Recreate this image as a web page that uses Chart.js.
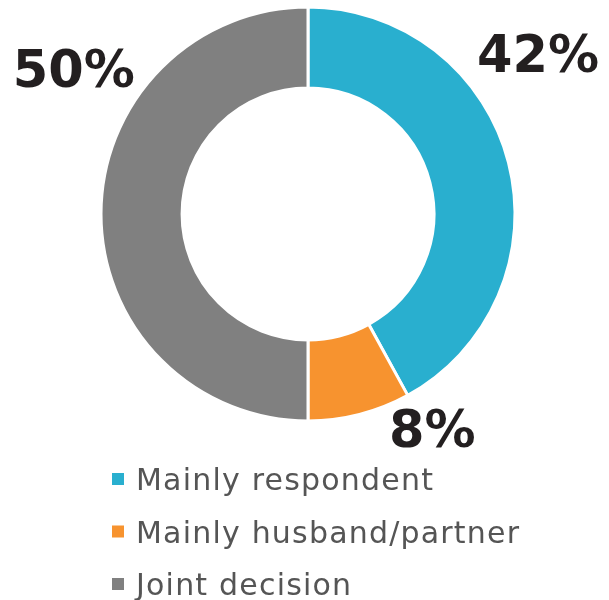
<!DOCTYPE html>
<html>
<head>
<meta charset="utf-8">
<script src="https://cdn.jsdelivr.net/npm/chart.js@4"></script>
<style>
  html, body { margin: 0; padding: 0; background: #fff; }
  #wrap { width: 609px; height: 600px; }
</style>
</head>
<body>
<div id="wrap"><canvas id="decision" width="609" height="600"></canvas></div>
<script>
// Categories and their shares (%)
const categories = ['Mainly respondent', 'Mainly husband/partner', 'Joint decision'];
const shares = [42, 8, 50];
const colours = ['#29afcf', '#f7932f', '#808080'];

// where the % labels sit: angle (deg, 0 = 3 o'clock) and distance in outer radii
const labelSpots = [
  { angle: -34, dist: 1.34 },
  { angle: 60.5, dist: 1.22 },
  { angle: -149, dist: 1.32 }
];

// percent labels around the ring
const percentLabels = {
  id: 'percentLabels',
  afterDatasetsDraw(chart) {
    const ctx = chart.ctx;
    const meta = chart.getDatasetMeta(0);
    ctx.save();
    ctx.font = 'bold 51px "DejaVu Sans"';
    ctx.fillStyle = '#231f20';
    ctx.textAlign = 'center';
    ctx.textBaseline = 'middle';
    meta.data.forEach((arc, i) => {
      const spot = labelSpots[i];
      const a = spot.angle * Math.PI / 180;
      const r = arc.outerRadius * spot.dist;
      ctx.fillText(shares[i] + '%', arc.x + Math.cos(a) * r, arc.y + Math.sin(a) * r);
    });
    ctx.restore();
  }
};

// vertical legend under the ring
const listLegend = {
  id: 'listLegend',
  afterDraw(chart) {
    const ctx = chart.ctx;
    ctx.save();
    ctx.font = '30px "DejaVu Sans"';
    ctx.letterSpacing = '1.2px';
    ctx.textBaseline = 'alphabetic';
    chart.data.labels.forEach((lab, i) => {
      const y = 490 + i * 52.5;
      ctx.fillStyle = chart.data.datasets[0].backgroundColor[i];
      ctx.fillRect(112, y - 17, 12, 12);
      ctx.fillStyle = '#555555';
      ctx.fillText(lab, 136, y);
    });
    ctx.restore();
  }
};

const ctx = document.getElementById('decision');
const decisionChart = new Chart(ctx, {
  type: 'doughnut',
  data: {
    labels: categories,
    datasets: [{
      data: shares,
      backgroundColor: colours,
      borderColor: '#ffffff',
      borderWidth: 3,
      hoverOffset: 0
    }]
  },
  options: {
    responsive: false,
    animation: false,
    radius: 207,
    cutout: 125,
    layout: { padding: { left: 101, right: 94, top: 7, bottom: 179 } },
    plugins: {
      legend: { display: false },
      tooltip: { enabled: false }
    }
  },
  plugins: [percentLabels, listLegend]
});
</script>
</body>
</html>
